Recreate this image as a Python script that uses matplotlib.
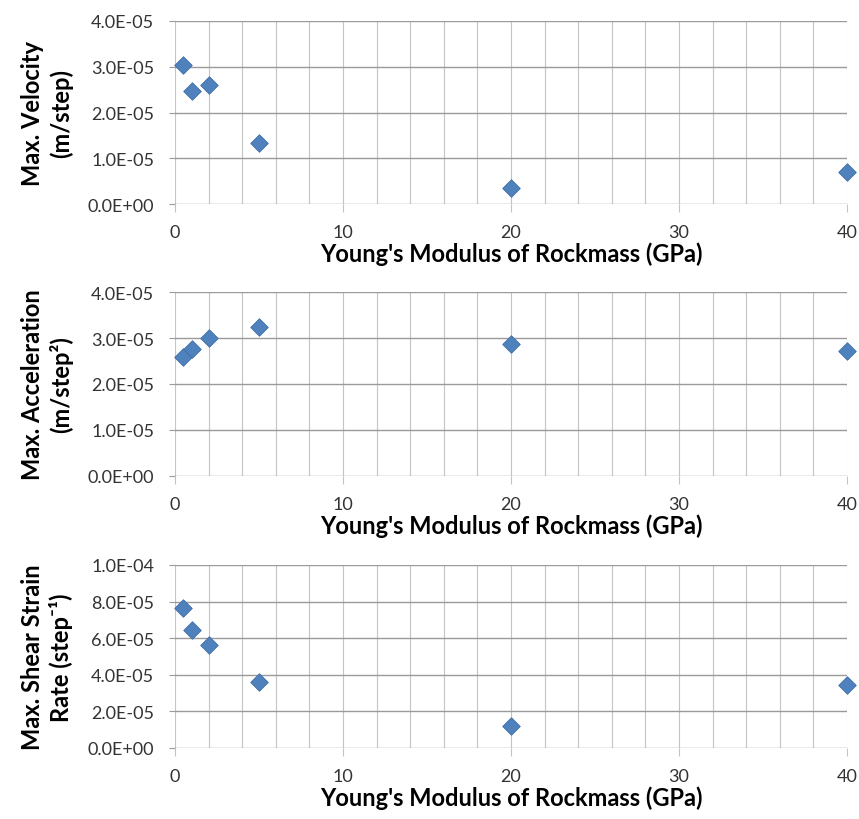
import matplotlib
matplotlib.use("Agg")
import matplotlib.pyplot as plt
from matplotlib.ticker import FuncFormatter, MultipleLocator

plt.rcParams['font.family'] = ['Lato', 'DejaVu Sans']

# Young's modulus of the rock mass (GPa)
modulus = [0.5, 1, 2, 5, 20, 40]

# Peak responses for each modulus
max_velocity = [3.03e-05, 2.46e-05, 2.61e-05, 1.34e-05, 3.5e-06, 7.1e-06]
max_acceleration = [2.58e-05, 2.76e-05, 3.01e-05, 3.23e-05, 2.88e-05, 2.71e-05]
max_shear_rate = [7.65e-05, 6.47e-05, 5.62e-05, 3.6e-05, 1.2e-05, 3.45e-05]

xlabel = "Young's Modulus of Rockmass (GPa)"
ylabels = ["Max. Velocity\n(m/step)",
           "Max. Acceleration\n(m/step\u00b2)",
           "Max. Shear Strain\nRate (step\u207b\u00b9)"]
series = [max_velocity, max_acceleration, max_shear_rate]
ymax = [4e-05, 4e-05, 1e-04]
ystep = [1e-05, 1e-05, 2e-05]

W, H = 859, 820
fig = plt.figure(figsize=(W / 100, H / 100), dpi=100)

# panel boxes in pixels: (top, bottom)
boxes = [(22, 205), (293, 477), (566, 749)]
left_px, right_px = 175, 847

sci = FuncFormatter(lambda v, p: f"{v:.1E}")
hgrid_c = '#9a9a9a'
vgrid_c = '#c4c4c4'
marker_c = '#4f81bd'

for (top, bot), vals, lab, ym, ys in zip(boxes, series, ylabels, ymax, ystep):
    ax = fig.add_axes([left_px / W, 1 - bot / H, (right_px - left_px) / W, (bot - top) / H])
    ax.scatter(modulus, vals, marker='D', s=80, color=marker_c, zorder=3,
               edgecolors='#3f6fa8', linewidths=0.6, clip_on=False)
    ax.set_xlim(0, 40)
    ax.set_ylim(0, ym)
    ax.xaxis.set_major_locator(MultipleLocator(10))
    ax.xaxis.set_minor_locator(MultipleLocator(2))
    ax.yaxis.set_major_locator(MultipleLocator(ys))
    ax.yaxis.set_major_formatter(sci)
    ax.grid(which='major', axis='y', color=hgrid_c, linewidth=1.0)
    ax.grid(which='both', axis='x', color=vgrid_c, linewidth=0.8)
    ax.set_axisbelow(True)
    for s in ax.spines.values():
        s.set_visible(False)
    ax.tick_params(axis='y', which='major', length=4, color=hgrid_c,
                   labelsize=13, labelcolor='#333333', pad=11)
    ax.tick_params(axis='x', which='major', length=5.5, color=vgrid_c,
                   labelsize=13, labelcolor='#333333', pad=9)
    ax.tick_params(axis='x', which='minor', length=0)
    ax.set_xlabel(xlabel, fontsize=17, fontweight='bold', labelpad=1)
    ax.set_ylabel(lab, fontsize=17, fontweight='bold', linespacing=1.25)
    ax.yaxis.set_label_coords(-0.152, 0.5)

fig.savefig("out.png", dpi=100, facecolor='white')
